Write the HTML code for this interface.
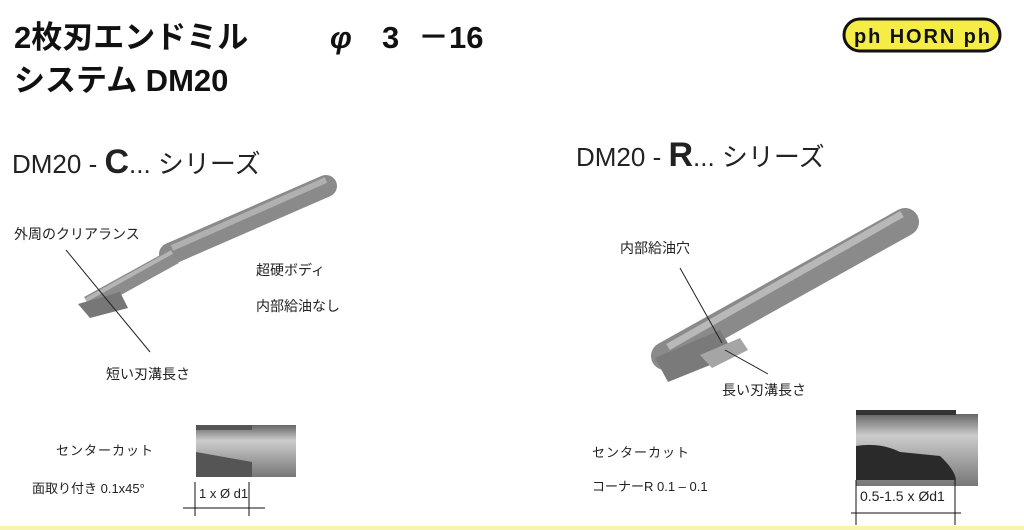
<!DOCTYPE html>
<html><head><meta charset="utf-8"><style>
body{margin:0;width:1024px;height:530px;background:#fff;position:relative;overflow:hidden;font-family:"Liberation Sans","Noto Sans CJK JP",sans-serif;color:#222}
.t{position:absolute;white-space:nowrap}
.h{font-size:31px;font-weight:bold;color:#111;top:18px;line-height:40px}
</style></head><body>
<div class="t h" style="left:14px">2枚刃エンドミル</div>
<div class="t h" style="left:330px;font-style:italic">φ</div>
<div class="t h" style="left:382px">3</div>
<div class="t h" style="left:418px">－16</div>
<div class="t" style="left:14px;top:61px;font-size:31px;font-weight:bold;color:#111;line-height:40px">システム DM20</div>
<svg style="position:absolute;left:842px;top:16px" width="160" height="38" viewBox="0 0 160 38">
<rect x="2" y="3" width="156" height="32" rx="16" fill="#f5ec45" stroke="#111" stroke-width="3"/>
<text x="80" y="27" text-anchor="middle" font-family="Liberation Sans" font-weight="bold" font-size="20" fill="#111" textLength="136">ph HORN ph</text>
</svg>
<div class="t" style="left:12px;top:143px;font-size:26px">DM20 - <b style="font-size:34px">C</b>... シリーズ</div>
<div class="t" style="left:576px;top:136px;font-size:26px">DM20 - <b style="font-size:34px">R</b>... シリーズ</div>
<div class="t" style="left:14px;top:224px;font-size:14px">外周のクリアランス</div>
<div class="t" style="left:256px;top:260px;font-size:14px">超硬ボディ</div>
<div class="t" style="left:256px;top:296px;font-size:14px">内部給油なし</div>
<div class="t" style="left:106px;top:364px;font-size:14px">短い刃溝長さ</div>
<div class="t" style="left:56px;top:440px;font-size:13px;letter-spacing:1px">センターカット</div>
<div class="t" style="left:32px;top:478px;font-size:13px">面取り付き 0.1x45°</div>
<div class="t" style="left:620px;top:238px;font-size:14px">内部給油穴</div>
<div class="t" style="left:722px;top:380px;font-size:14px">長い刃溝長さ</div>
<div class="t" style="left:592px;top:442px;font-size:13px;letter-spacing:1px">センターカット</div>
<div class="t" style="left:592px;top:476px;font-size:13px">コーナーR  0.1 – 0.1</div>
<svg style="position:absolute;left:0;top:0" width="1024" height="530">
<defs>
<linearGradient id="h" x1="0" y1="0" x2="0" y2="1"><stop offset="0" stop-color="#666"/><stop offset="0.3" stop-color="#ccc"/><stop offset="1" stop-color="#777"/></linearGradient>
</defs>
<line x1="170" y1="254" x2="326" y2="186" stroke="#8a8a8a" stroke-width="22" stroke-linecap="round"/>
<line x1="172" y1="248" x2="326" y2="180" stroke="#b0b0b0" stroke-width="6"/>
<line x1="88" y1="304" x2="175" y2="256" stroke="#8c8c8c" stroke-width="16"/>
<line x1="86" y1="300" x2="172" y2="252" stroke="#b5b5b5" stroke-width="4"/>
<polygon points="78,304 120,292 128,308 90,318" fill="#777"/>
<line x1="66" y1="250" x2="150" y2="352" stroke="#222" stroke-width="1"/>
<line x1="665" y1="356" x2="905" y2="222" stroke="#8a8a8a" stroke-width="28" stroke-linecap="round"/>
<line x1="668" y1="347" x2="902" y2="214" stroke="#b8b8b8" stroke-width="7"/>
<polygon points="655,358 720,330 735,355 668,382" fill="#7a7a7a"/>
<polygon points="700,355 740,338 748,350 712,368" fill="#a5a5a5"/>
<line x1="680" y1="268" x2="722" y2="343" stroke="#222" stroke-width="1"/>
<line x1="725" y1="350" x2="768" y2="374" stroke="#222" stroke-width="1"/>
<rect x="196" y="425" width="100" height="52" fill="url(#h)"/>
<polygon points="196,425 252,425 252,430 196,430" fill="#555"/>
<polygon points="196,452 252,462 252,477 196,477" fill="#555"/>
<line x1="195" y1="482" x2="195" y2="516" stroke="#111"/>
<line x1="249" y1="482" x2="249" y2="516" stroke="#111"/>
<line x1="183" y1="508" x2="265" y2="508" stroke="#111"/>
<text x="199" y="498" font-size="13" font-family="Liberation Sans" fill="#222">1 x Ø d1</text>
<rect x="856" y="414" width="122" height="72" fill="url(#h)"/>
<rect x="856" y="410" width="100" height="5" fill="#333"/>
<path d="M856,446 Q880,442 900,452 L940,456 Q955,470 956,480 L956,480 L856,480 Z" fill="#2a2a2a"/>
<line x1="856" y1="480" x2="856" y2="525" stroke="#111"/>
<line x1="955" y1="480" x2="955" y2="525" stroke="#111"/>
<line x1="851" y1="513" x2="961" y2="513" stroke="#111"/>
<text x="860" y="501" font-size="14" font-family="Liberation Sans" fill="#222">0.5-1.5 x Ød1</text>
<rect x="0" y="526" width="1024" height="4" fill="#f7f3b0"/>
</svg>
</body></html>
